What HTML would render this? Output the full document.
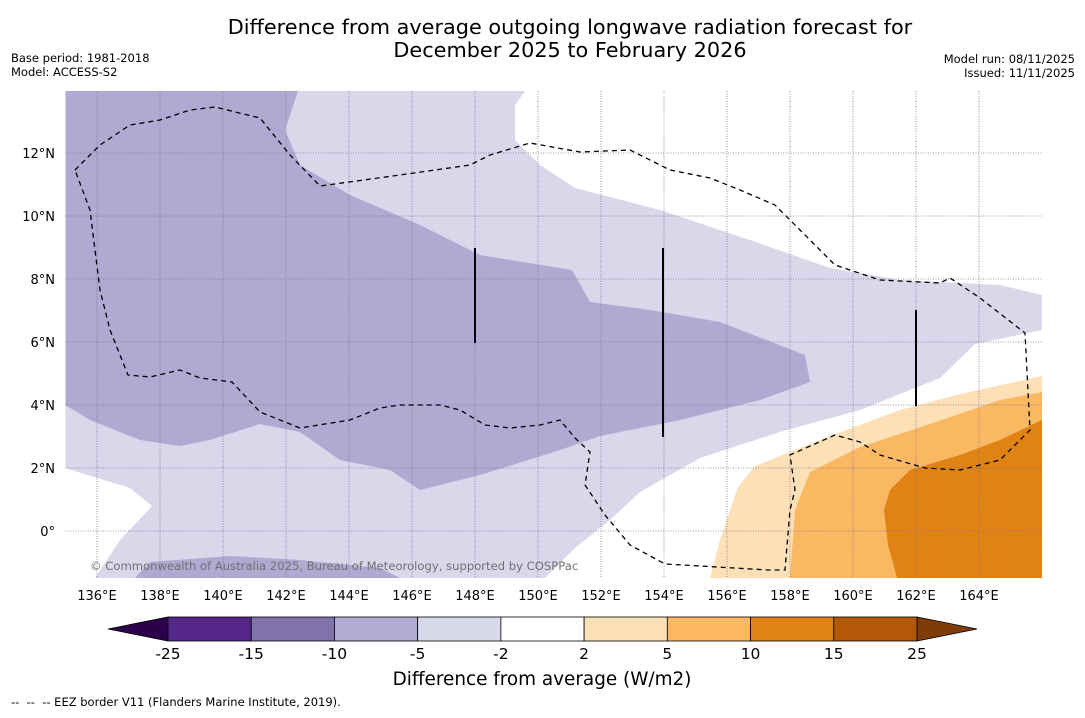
<!DOCTYPE html>
<html><head><meta charset="utf-8">
<style>
body{margin:0;background:#fff;font-family:"Liberation Sans","DejaVu Sans",sans-serif;}
svg text{font-family:"DejaVu Sans","Liberation Sans",sans-serif;}
</style></head>
<body>
<svg id="chart" width="1085" height="713" viewBox="0 0 1085 713" xmlns="http://www.w3.org/2000/svg">
<rect width="1085" height="713" fill="#fff"/>
<text x="570" y="34" font-size="20.8" text-anchor="middle" fill="#000">Difference from average outgoing longwave radiation forecast for</text>
<text x="570" y="57" font-size="20.8" text-anchor="middle" fill="#000">December 2025 to February 2026</text>
<text x="11" y="62" font-size="11.5">Base period: 1981-2018</text>
<text x="11" y="76" font-size="11.5">Model: ACCESS-S2</text>
<text x="1075" y="63" font-size="11.5" text-anchor="end">Model run: 08/11/2025</text>
<text x="1075" y="77" font-size="11.5" text-anchor="end">Issued: 11/11/2025</text>

<defs><clipPath id="mapclip"><rect x="65.5" y="91" width="976.5" height="487"/></clipPath></defs>
<g id="map" clip-path="url(#mapclip)">
<rect x="65.5" y="91" width="976.5" height="487" fill="#d8d8ea"/>
<path fill="#fff" d="M525,91 L515,105 L515,140 L540,165 L575,188 L660,210 L750,240 L830,268 L900,280 L1000,285 L1042,295 L1042,91 Z"/>
<path fill="#fff" d="M65,468 L130,488 L152,506 L120,540 L95,578 L65,578 Z M545,578 L575,548 L610,520 L640,492 L700,458 L780,432 L860,410 L940,378 L975,344 L1042,330 L1042,578 Z"/>
<path fill="#b0a9d2" d="M65,91 L298,91 L285,130 L300,165 L350,195 L420,225 L480,255 L572,270 L590,302 L650,310 L720,322 L805,355 L810,382 L760,400 L680,420 L600,436 L560,450 L480,475 L420,490 L390,470 L340,460 L300,432 L260,424 L210,440 L180,446 L140,440 L90,420 L65,405 Z"/>
<path fill="#b0a9d2" d="M135,578 L150,562 L230,556 L300,560 L380,568 L400,578 Z"/>
<path fill="#fde0b5" d="M710,578 L720,540 L738,487 L755,466 L830,436 L900,410 L960,394 L1042,376 L1042,578 Z"/>
<path fill="#fbb862" d="M790,578 L795,510 L810,472 L860,447 L930,424 L1000,400 L1042,392 L1042,578 Z"/>
<path fill="#e08214" d="M897,578 L888,545 L884,510 L890,490 L910,470 L960,455 L1000,440 L1042,420 L1042,578 Z"/>
<g id="grid" stroke="#7a7490" stroke-width="0.8" stroke-dasharray="1,1.5"></g>
<path fill="none" stroke="#000" stroke-width="1.3" stroke-dasharray="5,4" d="M75,170 L100,145 L130,125 L160,120 L190,110 L215,107 L260,118 L290,155 L320,186 L400,175 L470,165 L490,155 L530,143 L580,152 L630,150 L670,170 L710,178 L740,190 L775,205 L800,230 L835,265 L880,280 L940,283 L950,278 L980,298 L1025,333 L1030,430 L1000,460 L960,470 L925,468 L880,455 L860,442 L835,435 L790,455 L795,490 L790,510 L785,570 L768,570 L700,566 L665,564 L630,545 L605,515 L585,485 L590,452 L575,438 L560,420 L540,425 L510,428 L485,425 L460,410 L440,405 L400,405 L380,408 L350,420 L300,428 L260,412 L232,382 L200,378 L180,370 L150,377 L128,375 L110,330 L100,290 L95,250 L90,210 L75,170"/>
<g stroke="#000" stroke-width="2">
<line x1="475" y1="248" x2="475" y2="343"/><line x1="663" y1="248" x2="663" y2="437"/><line x1="916" y1="310" x2="916" y2="406"/>
</g>
<text x="90" y="570" font-size="11.6" fill="#707070">© Commonwealth of Australia 2025, Bureau of Meteorology, supported by COSPPac</text>
</g>
<g id="xticks"></g><g id="yticks"></g>

<g id="cbar"></g>
<text x="542" y="685" font-size="18.4" text-anchor="middle">Difference from average (W/m2)</text>
<text x="11" y="706" font-size="11.5" xml:space="preserve" style="white-space:pre">--  --  -- EEZ border V11 (Flanders Marine Institute, 2019).</text>
</svg>
<script>
const lonTicks=[136,138,140,142,144,146,148,150,152,154,156,158,160,162,164];
const latTicks=[0,2,4,6,8,10,12];
const levels=[-25,-15,-10,-5,-2,2,5,10,15,25];
const levelColors=["#542788","#8073ac","#b2abd2","#d8daeb","#ffffff","#fee0b6","#fdb863","#e08214","#b35806"];
const NS="http://www.w3.org/2000/svg";
const xOf=lon=>65.5+(lon-135)*31.5;
const yOf=lat=>531-lat*31.5;
function mk(t,a,p){const e=document.createElementNS(NS,t);for(const k in a)e.setAttribute(k,a[k]);p.appendChild(e);return e;}
const grid=document.getElementById('grid'),xt=document.getElementById('xticks'),yt=document.getElementById('yticks');
lonTicks.forEach(l=>{
 const g=mk('line',{x1:xOf(l),x2:xOf(l),y1:91,y2:578},grid);
 
 
 const t=mk('text',{x:xOf(l),y:600,'font-size':13,'text-anchor':'middle'},xt);
 t.textContent=l+'°E';
 
 
});
latTicks.forEach(l=>{
 const g=mk('line',{x1:65.5,x2:1042,y1:yOf(l),y2:yOf(l)},grid);
 
 
 const t=mk('text',{x:55,y:yOf(l)+5,'font-size':13,'text-anchor':'end'},yt);
 t.textContent=l===0?'0°':l+'°N';
 
 
});
const cb=document.getElementById('cbar');
const cx0=168,cw=(917-168)/9,cy=617,ch=24;
const lt=mk('polygon',{points:`108,${cy+ch/2} ${cx0},${cy} ${cx0},${cy+ch}`,fill:'#2d004b',stroke:'#000','stroke-width':0.8},cb);


const rt=mk('polygon',{points:`977,${cy+ch/2} 917,${cy} 917,${cy+ch}`,fill:'#7f3b08',stroke:'#000','stroke-width':0.8},cb);


levelColors.forEach((c,i)=>{
 const r=mk('rect',{x:cx0+i*cw,y:cy,width:cw,height:ch,fill:c,stroke:'#000','stroke-width':0.8},cb);
 
 
});
levels.forEach((v,i)=>{
 const t=mk('text',{x:cx0+i*cw,y:659,'font-size':15.5,'text-anchor':'middle'},cb);
 t.textContent=v;
 
 
});
</script>
</body></html>
